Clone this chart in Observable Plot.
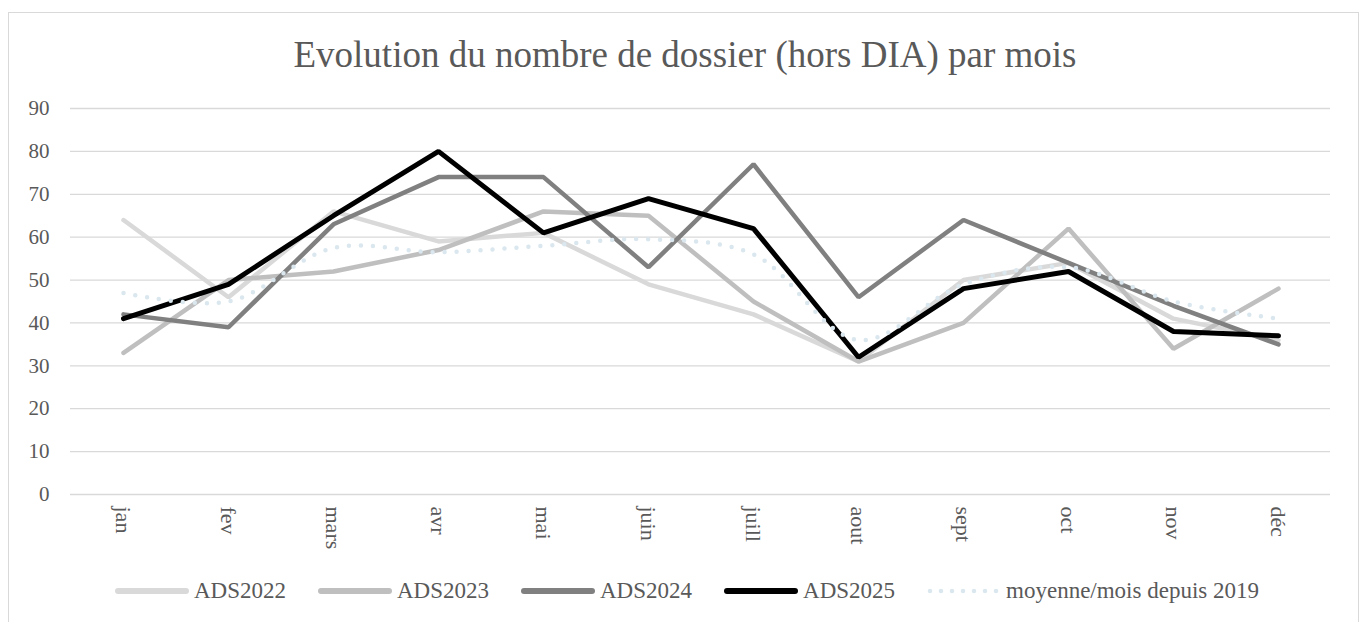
<!DOCTYPE html>
<html>
<head>
<meta charset="utf-8">
<script src="https://cdn.jsdelivr.net/npm/d3@7"></script>
<script src="https://cdn.jsdelivr.net/npm/@observablehq/plot@0.6"></script>
<style>
  html, body { margin: 0; padding: 0; background: #fff; }
  body { width: 1363px; height: 622px; position: relative; overflow: hidden; font-family: 'Liberation Serif', 'Times New Roman', 'DejaVu Serif', serif; }
  #frame { position: absolute; left: 8px; top: 12px; width: 1351px; height: 640px; border: 1.5px solid #d9d9d9; box-sizing: border-box; }
  #title { position: absolute; left: 0; width: 1370px; top: 35px; text-align: center; font-family: 'Liberation Serif', 'Times New Roman', serif; font-size: 37px; color: #595959; line-height: 40px; }
  #chart { position: absolute; left: 0; top: 90px; }
  #legend { position: absolute; left: 0; width: 1374px; top: 578px; display: flex; justify-content: center; align-items: center; font-family: 'Liberation Serif', 'Times New Roman', serif; font-size: 23px; color: #595959; }
  .item { display: flex; align-items: center; margin: 0 16px; }
  .item span { font-family: 'Liberation Serif', 'Times New Roman', serif; }
  .item svg { margin-right: 5px; }
</style>
</head>
<body>
<div id="frame"></div>
<div id="title">Evolution du nombre de dossier (hors DIA) par mois</div>
<div id="chart"></div>
<div id="legend"></div>
<script>
const months = ["jan","fev","mars","avr","mai","juin","juill","aout","sept","oct","nov","déc"];
const ads2022 = [64,46,66,59,61,49,42,31,50,54,41,36];
const ads2023 = [33,50,52,57,66,65,45,31,40,62,34,48];
const ads2024 = [42,39,63,74,74,53,77,46,64,54,44,35];
const ads2025 = [41,49,65,80,61,69,62,32,48,52,38,37];
const moyenne = [47,45,57.5,56.5,58,59.5,56,36,49,53,45,41];
const yTicks = [0,10,20,30,40,50,60,70,80,90];

const seriesNames = ["ADS2022","ADS2023","ADS2024","ADS2025","moyenne/mois depuis 2019"];
const seriesValues = [ads2022, ads2023, ads2024, ads2025, moyenne];
const seriesColors = ["#d9d9d9","#bfbfbf","#808080","#000000","#dae7ee"];
const seriesWidths = [4.5, 4.5, 4.5, 5, 4.5];

const rows = s => months.map((m, i) => ({month: m, value: seriesValues[s][i]}));

const marks = [
  Plot.ruleY(yTicks, {stroke: "#d9d9d9", strokeWidth: 1.3}),
  Plot.axisY({ticks: yTicks, tickSize: 0, tickPadding: 21, label: null, fontSize: 21, fill: "#595959"}),
  Plot.axisX({tickRotate: 90, tickSize: 0, tickPadding: 12, label: null, fontSize: 22, fill: "#595959"})
];
for (let s = 0; s < 4; s++) {
  marks.push(Plot.line(rows(s), {x: "month", y: "value", stroke: seriesColors[s], strokeWidth: seriesWidths[s], strokeLinejoin: "miter", strokeLinecap: "round"}));
}
marks.push(Plot.line(rows(4), {x: "month", y: "value", stroke: seriesColors[4], strokeWidth: 4.5, strokeDasharray: "0 12", strokeLinecap: "round", curve: "catmull-rom"}));

const chart = Plot.plot({
  width: 1363,
  height: 460,
  marginLeft: 70,
  marginRight: 33,
  marginTop: 18,
  marginBottom: 56,
  style: {fontFamily: "'Liberation Serif', 'Times New Roman', serif", color: "#595959", background: "transparent", overflow: "visible"},
  x: {type: "point", domain: months, padding: 0.5},
  y: {domain: [0, 90]},
  marks
});
document.getElementById("chart").appendChild(chart);

const legend = document.getElementById("legend");
seriesNames.forEach((name, s) => {
  const item = document.createElement("div");
  item.className = "item";
  const dotted = s === 4;
  item.innerHTML = `<svg width="74" height="12"><line x1="3" y1="6" x2="71" y2="6" stroke="${seriesColors[s]}" stroke-width="${dotted ? 4.5 : 6}" stroke-linecap="round" ${dotted ? 'stroke-dasharray="0 11"' : ''}/></svg><span>${name}</span>`;
  legend.appendChild(item);
});
</script>
</body>
</html>
